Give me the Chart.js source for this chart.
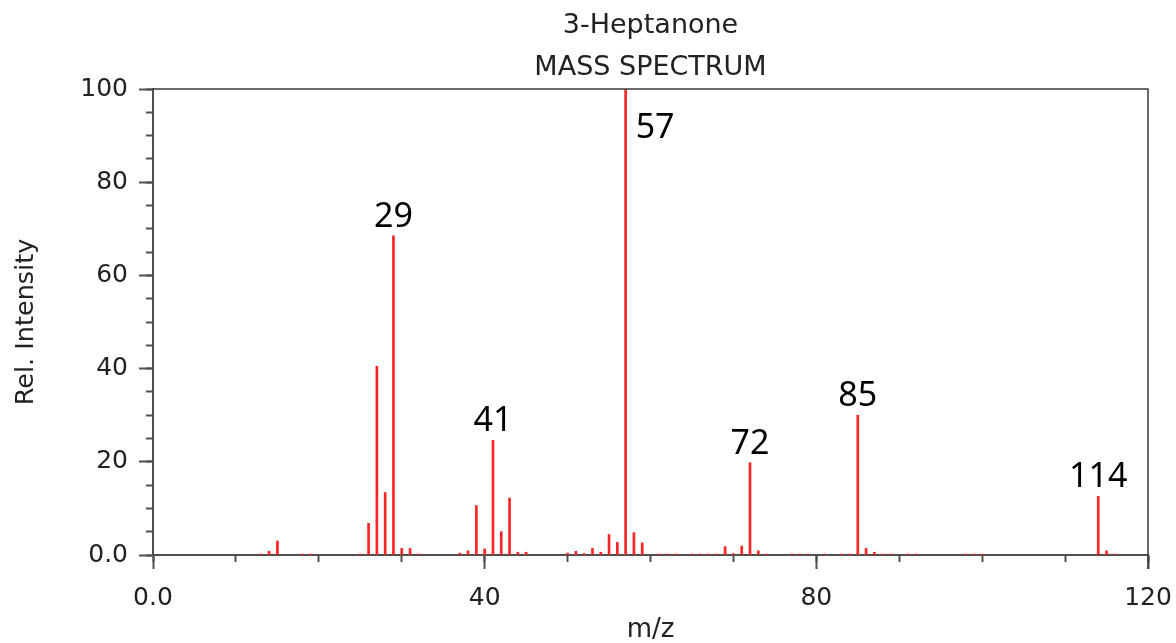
<!DOCTYPE html>
<html>
<head>
<meta charset="utf-8">
<title>3-Heptanone Mass Spectrum</title>
<script src="https://cdn.jsdelivr.net/npm/chart.js@4/dist/chart.umd.min.js"></script>
<style>
  html, body { margin: 0; padding: 0; background: #ffffff; }
  #wrap { width: 1176px; height: 643px; }
</style>
</head>
<body>
<div id="wrap"><canvas id="ms" width="1176" height="643"></canvas></div>
<script>
// m/z values of the observed fragments
const mzValues = [
  13, 14, 15, 18, 19, 25, 26, 27, 28, 29, 30, 31, 32,
  37, 38, 39, 40, 41, 42, 43, 44, 45,
  50, 51, 52, 53, 54, 55, 56, 57, 58, 59,
  61, 62, 63, 65, 66, 67, 68, 69, 70, 71, 72, 73, 74,
  77, 78, 79, 81, 83, 84, 85, 86, 87, 88, 89, 91, 92,
  98, 99, 100, 114, 115, 116
];

// relative intensities (base peak = 100)
const intensities = [
  0.2, 0.8, 3.0, 0.2, 0.2, 0.2, 6.8, 40.5, 13.4, 68.5, 1.4, 1.4, 0.2,
  0.4, 0.9, 10.6, 1.3, 24.6, 5.0, 12.2, 0.6, 0.6,
  0.4, 0.8, 0.3, 1.4, 0.6, 4.4, 2.7, 100, 4.8, 2.6,
  0.2, 0.2, 0.2, 0.2, 0.2, 0.2, 0.2, 1.8, 0.3, 1.9, 19.8, 0.9, 0.2,
  0.2, 0.2, 0.2, 0.2, 0.2, 0.2, 30.0, 1.4, 0.6, 0.2, 0.2, 0.2, 0.2,
  0.2, 0.2, 0.2, 12.6, 0.9, 0.2
];

// peaks that carry an m/z annotation
const labeledPeaks = [29, 41, 57, 72, 85, 114];

// axis tick values
const xMajorTicks = [0, 40, 80, 120];
const yMajorTicks = [0, 20, 40, 60, 80, 100];

const titleLines = ['3-Heptanone', 'MASS SPECTRUM'];
const xTitle = 'm/z';
const yTitle = 'Rel. Intensity';

const AXIS_COLOR = '#505050';
const TEXT_COLOR = '#222222';
const FONT = 'DejaVu Sans';

const fmtTick = v => (v === 0 ? '0.0' : String(v));

// frame around the plotting area
const framePlugin = {
  id: 'frame',
  afterDraw(chart) {
    const a = chart.chartArea;
    const ctx = chart.ctx;
    ctx.save();
    ctx.strokeStyle = '#3a3a3a';
    ctx.lineWidth = 1.5;
    ctx.beginPath();
    ctx.moveTo(a.left, a.top);
    ctx.lineTo(a.right, a.top);
    ctx.lineTo(a.right, a.bottom + 14);
    ctx.stroke();
    ctx.restore();
  }
};

// m/z annotations above the selected peaks
const peakLabelPlugin = {
  id: 'peakLabels',
  afterDatasetsDraw(chart) {
    const xs = chart.scales.x;
    const ys = chart.scales.y;
    const a = chart.chartArea;
    const ctx = chart.ctx;
    ctx.save();
    ctx.fillStyle = '#000000';
    ctx.font = '34px "Noto Sans"';
    ctx.textBaseline = 'alphabetic';
    labeledPeaks.forEach(m => {
      const v = intensities[mzValues.indexOf(m)];
      const px = xs.getPixelForValue(m);
      const py = ys.getPixelForValue(v);
      if (py - 40 < a.top) {
        ctx.textAlign = 'left';
        ctx.fillText(String(m), px + 10, a.top + 49);
      } else {
        ctx.textAlign = 'center';
        ctx.fillText(String(m), px, py - 9);
      }
    });
    ctx.restore();
  }
};

const chart = new Chart(document.getElementById('ms'), {
  type: 'bar',
  data: {
    datasets: [{
      data: mzValues.map((m, i) => ({ x: m, y: intensities[i] })),
      backgroundColor: '#ff2424',
      borderWidth: 0,
      barThickness: 2,
      xAxisID: 'x',
      yAxisID: 'y'
    }]
  },
  options: {
    responsive: false,
    animation: false,
    devicePixelRatio: 1,
    layout: { padding: { left: 0, right: 28, top: 0, bottom: 0 } },
    plugins: {
      legend: { display: false },
      tooltip: { enabled: false },
      title: {
        display: true,
        fullSize: false,
        text: titleLines,
        color: TEXT_COLOR,
        font: { family: FONT, size: 27, weight: 'normal', lineHeight: 42 / 27 },
        padding: { top: 5, bottom: 0 }
      }
    },
    scales: {
      x: {
        type: 'linear',
        position: 'bottom',
        offset: false,
        weight: 1,
        min: 0,
        max: 120,
        afterBuildTicks: s => { s.ticks = xMajorTicks.map(v => ({ value: v })); },
        afterFit: s => { s.height = 88; s.paddingLeft = 0; s.paddingRight = 0; },
        ticks: {
          callback: fmtTick,
          color: TEXT_COLOR,
          font: { family: FONT, size: 25 },
          padding: 14,
          maxRotation: 0,
          autoSkip: false
        },
        grid: {
          offset: false,
          drawOnChartArea: false,
          drawTicks: true,
          tickLength: 14,
          tickWidth: 2,
          tickColor: AXIS_COLOR
        },
        border: { display: true, color: AXIS_COLOR, width: 2 },
        title: {
          display: true,
          text: xTitle,
          color: TEXT_COLOR,
          font: { family: FONT, size: 26, lineHeight: 1.0 },
          padding: { top: 0, bottom: 0 }
        }
      },
      xMinor: {
        type: 'linear',
        position: 'bottom',
        offset: false,
        weight: 0,
        min: 0,
        max: 120,
        ticks: { display: false, stepSize: 10 },
        afterFit: s => { s.height = 0; s.paddingLeft = 0; s.paddingRight = 0; },
        grid: {
          offset: false,
          drawOnChartArea: false,
          drawTicks: true,
          tickLength: 7,
          tickWidth: 2,
          tickColor: AXIS_COLOR
        },
        border: { display: false }
      },
      y: {
        type: 'linear',
        position: 'left',
        weight: 1,
        min: 0,
        max: 100,
        afterBuildTicks: s => { s.ticks = yMajorTicks.map(v => ({ value: v })); },
        afterFit: s => { s.width = 153; },
        ticks: {
          callback: fmtTick,
          color: TEXT_COLOR,
          font: { family: FONT, size: 25 },
          padding: 11
        },
        grid: {
          drawOnChartArea: false,
          drawTicks: true,
          tickLength: 14,
          tickWidth: 2,
          tickColor: AXIS_COLOR
        },
        border: { display: true, color: AXIS_COLOR, width: 2 },
        title: {
          display: true,
          text: yTitle,
          color: TEXT_COLOR,
          font: { family: FONT, size: 25.5, lineHeight: 1.2 },
          padding: { top: 11, bottom: 0 }
        }
      },
      yMinor: {
        type: 'linear',
        position: 'left',
        weight: 0,
        min: 0,
        max: 100,
        ticks: { display: false, stepSize: 5 },
        afterFit: s => { s.width = 0; },
        grid: {
          drawOnChartArea: false,
          drawTicks: true,
          tickLength: 7,
          tickWidth: 2,
          tickColor: AXIS_COLOR
        },
        border: { display: false }
      }
    }
  },
  plugins: [framePlugin, peakLabelPlugin]
});
</script>
</body>
</html>
